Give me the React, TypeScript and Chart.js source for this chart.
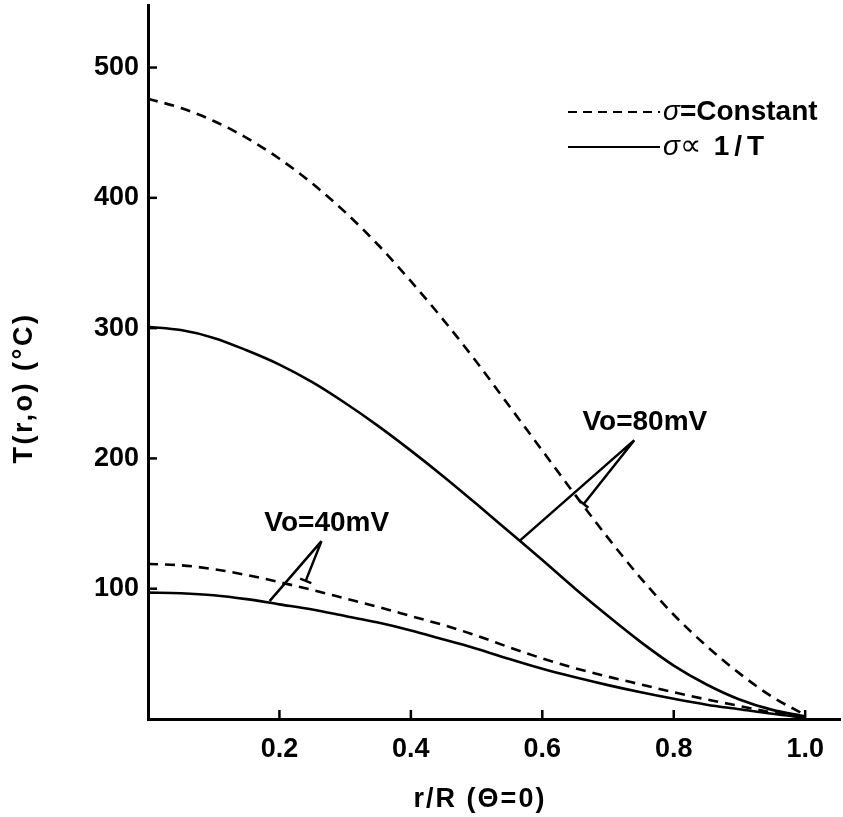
import React, { useEffect, useRef } from 'react';
import { Chart, registerables } from 'chart.js';

Chart.register(...registerables);

// r/R positions
const rValues = [0, 0.05, 0.1, 0.15, 0.2, 0.25, 0.3, 0.35, 0.4, 0.45, 0.5, 0.55, 0.6, 0.65, 0.7, 0.75, 0.8, 0.85, 0.9, 0.95, 1.0];
// Vo = 80 mV
const constant80 = [476, 469, 459, 446, 430, 411, 389, 364, 336, 306, 274, 240, 206, 172, 139, 108, 80, 56, 35, 17, 3];
const inverse80 = [301, 298.5, 292.5, 283, 272, 258.5, 242.5, 225, 206, 186, 165, 143.5, 122, 100, 79, 59, 41, 26.5, 15, 7, 2];
// Vo = 40 mV
const constant40 = [119, 118, 115, 110.5, 105, 99, 92.5, 86, 79, 72, 64, 55, 46.5, 39, 32.5, 26.5, 20.5, 15, 10, 5, 1];
const inverse40 = [97, 96.5, 95, 92, 88, 84, 79, 74, 68, 61, 54, 46, 38.5, 32, 26, 20.5, 15.5, 11, 7.5, 4, 1];

const xTicks = [0.2, 0.4, 0.6, 0.8, 1.0];
const yTicks = [100, 200, 300, 400, 500];

const xTitle = 'r/R (Θ=0)';
const yTitle = 'T(r,o) (°C)';

// annotations, in data units
const annotationLabels = ['Vo=40mV', 'Vo=80mV'];
const annotationLabelPos = [[0.272, 150], [0.756, 228]];
const annotationApex = [[0.264, 136.5], [0.74, 214]];
const annotationSolidEnd = [[0.185, 90.5], [0.565, 136.5]];
const annotationDashedEnd = [[0.24, 106], [0.663, 165]];

const INK = '#000';
const FONT = '"Liberation Sans", Arial, Helvetica, sans-serif';

const overlayPlugin = {
  id: 'overlay',
  afterDatasetsDraw(chart: any) {
    const { ctx, chartArea, scales } = chart;
    const xs = scales.x;
    const ys = scales.y;
    ctx.save();
    ctx.strokeStyle = INK;
    ctx.fillStyle = INK;
    // inward tick marks
    ctx.lineWidth = 2.5;
    ctx.setLineDash([]);
    xTicks.forEach((v) => {
      const px = xs.getPixelForValue(v);
      ctx.beginPath();
      ctx.moveTo(px, chartArea.bottom);
      ctx.lineTo(px, chartArea.bottom - 9);
      ctx.stroke();
    });
    yTicks.forEach((v) => {
      const py = ys.getPixelForValue(v);
      ctx.beginPath();
      ctx.moveTo(chartArea.left, py);
      ctx.lineTo(chartArea.left + 9, py);
      ctx.stroke();
    });

    // axis titles
    ctx.textAlign = 'center';
    ctx.textBaseline = 'middle';
    ctx.font = `bold 27px ${FONT}`;
    (ctx as any).letterSpacing = '2px';
    ctx.fillText(xTitle, (chartArea.left + chartArea.right) / 2 - 14, chartArea.bottom + 81);
    ctx.save();
    ctx.translate(25, (chartArea.top + chartArea.bottom) / 2 + 26);
    ctx.rotate(-Math.PI / 2);
    (ctx as any).letterSpacing = '2.5px';
    ctx.fillText(yTitle, 0, 0);
    ctx.restore();
    (ctx as any).letterSpacing = '0px';

    // annotations
    ctx.lineWidth = 2.5;
    ctx.font = `bold 28px ${FONT}`;
    ctx.textAlign = 'center';
    ctx.textBaseline = 'middle';
    annotationLabels.forEach((label, i) => {
      const lx = xs.getPixelForValue(annotationLabelPos[i][0]);
      const ly = ys.getPixelForValue(annotationLabelPos[i][1]);
      ctx.fillText(label, lx, ly);
      const ax = xs.getPixelForValue(annotationApex[i][0]);
      const ay = ys.getPixelForValue(annotationApex[i][1]);
      const sx = xs.getPixelForValue(annotationSolidEnd[i][0]);
      const sy = ys.getPixelForValue(annotationSolidEnd[i][1]);
      const dx = xs.getPixelForValue(annotationDashedEnd[i][0]);
      const dy = ys.getPixelForValue(annotationDashedEnd[i][1]);
      ctx.beginPath();
      ctx.moveTo(ax, ay);
      ctx.lineTo(sx, sy);
      ctx.moveTo(ax, ay);
      ctx.lineTo(dx, dy);
      ctx.stroke();
      // small bar at dashed end
      const vx = dx - ax, vy = dy - ay;
      const len = Math.hypot(vx, vy) || 1;
      const nx = -vy / len, ny = vx / len;
      ctx.beginPath();
      ctx.moveTo(dx - nx * 6, dy - ny * 6);
      ctx.lineTo(dx + nx * 6, dy + ny * 6);
      ctx.stroke();
    });

    // legend
    const lx0 = chartArea.right - 272;
    const lx1 = chartArea.right - 180;
    const ly1 = chartArea.top + 107;
    const ly2 = chartArea.top + 142;
    ctx.lineWidth = 2.2;
    ctx.setLineDash([9, 6]);
    ctx.beginPath();
    ctx.moveTo(lx0, ly1);
    ctx.lineTo(lx1, ly1);
    ctx.stroke();
    ctx.setLineDash([]);
    ctx.beginPath();
    ctx.moveTo(lx0, ly2);
    ctx.lineTo(lx1, ly2);
    ctx.stroke();
    ctx.textAlign = 'left';
    const drawParts = (parts: [string, string, number][], x: number, y: number) => {
      let cx = x;
      parts.forEach(([font, text, spacing]) => {
        ctx.font = font;
        (ctx as any).letterSpacing = `${spacing}px`;
        ctx.fillText(text, cx, y);
        cx += ctx.measureText(text).width;
      });
      (ctx as any).letterSpacing = '0px';
    };
    drawParts([[`italic 28px ${FONT}`, 'σ', 0], [`bold 28px ${FONT}`, '=Constant', 0]], lx1 + 3, ly1);
    drawParts([[`italic 28px ${FONT}`, 'σ', 0], [`30px ${FONT}`, '∝', 0], [`bold 28px ${FONT}`, ' 1/T', 5]], lx1 + 3, ly2);
    ctx.restore();
  },
};

export default function App() {
  const ref = useRef<HTMLCanvasElement>(null);
  useEffect(() => {
    const toPts = (ys: number[]) => rValues.map((x, i) => ({ x, y: ys[i] }));
    const base = {
      borderColor: INK,
      borderWidth: 2.6,
      pointRadius: 0,
      fill: false,
      cubicInterpolationMode: 'monotone' as const,
    };
    const tickFont = { family: FONT, size: 27, weight: 'bold' as const };
    const chart = new Chart(ref.current!, {
      type: 'line',
      data: {
        datasets: [
          { ...base, label: 'σ=Constant, Vo=80mV', data: toPts(constant80), borderDash: [10, 7] },
          { ...base, label: 'σ∝1/T, Vo=80mV', data: toPts(inverse80) },
          { ...base, label: 'σ=Constant, Vo=40mV', data: toPts(constant40), borderDash: [10, 7] },
          { ...base, label: 'σ∝1/T, Vo=40mV', data: toPts(inverse40) },
        ],
      },
      options: {
        responsive: false,
        animation: false,
        layout: { padding: { top: 5, right: 3, left: 0, bottom: 0 } },
        plugins: { legend: { display: false }, tooltip: { enabled: false } },
        scales: {
          x: {
            type: 'linear',
            min: 0,
            max: 1.053,
            afterBuildTicks: (s: any) => { s.ticks = xTicks.map((v) => ({ value: v })); },
            afterFit: (s: any) => { s.height = 98; s.paddingLeft = 0; s.paddingRight = 0; },
            grid: { drawOnChartArea: false, drawTicks: false },
            border: { display: true, color: INK, width: 3 },
            ticks: {
              color: INK,
              font: tickFont,
              padding: 14,
              autoSkip: false,
              maxRotation: 0,
              callback: (v: any) => Number(v).toFixed(1),
            },
            title: { display: false, text: xTitle },
          },
          y: {
            type: 'linear',
            min: 0,
            max: 548,
            afterBuildTicks: (s: any) => { s.ticks = yTicks.map((v) => ({ value: v })); },
            afterFit: (s: any) => { s.width = 148; s.paddingTop = 0; s.paddingBottom = 0; },
            grid: { drawOnChartArea: false, drawTicks: false },
            border: { display: true, color: INK, width: 3 },
            ticks: { color: INK, font: tickFont, padding: 9, callback: (v: any) => String(v) },
            title: { display: false, text: yTitle },
          },
        },
      },
      plugins: [overlayPlugin],
    });
    return () => chart.destroy();
  }, []);
  return (
    <div style={{ position: 'fixed', left: 0, top: 0, width: 843, height: 817, background: '#fff' }}>
      <canvas ref={ref} width={843} height={817} style={{ display: 'block' }} />
    </div>
  );
}
